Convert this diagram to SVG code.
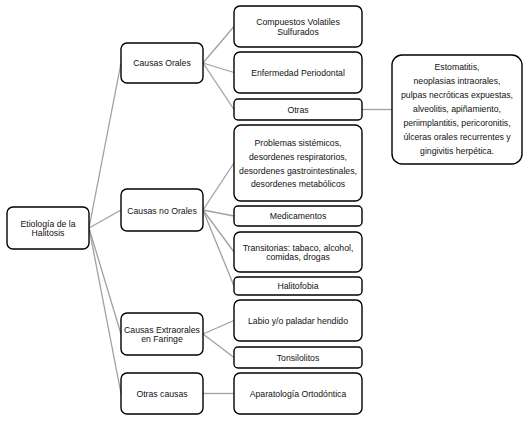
<svg xmlns="http://www.w3.org/2000/svg" width="529" height="421" viewBox="0 0 529 421">
<style>
.box{fill:#fff;stroke:#000;stroke-width:1.4}
.t{font-family:"Liberation Sans",Arial,sans-serif;font-size:8.7px;fill:#111;text-anchor:middle;dominant-baseline:central}
.c line{stroke:#a0a0a0;stroke-width:1.3}
</style>
<rect width="529" height="421" fill="#fff"/>
<g class="c" id="connectors">
<line x1="89" y1="228" x2="121" y2="63"/>
<line x1="89" y1="228" x2="121" y2="210"/>
<line x1="89" y1="228" x2="121" y2="334"/>
<line x1="89" y1="228" x2="121" y2="393.5"/>
<line x1="203" y1="63" x2="234" y2="26.5"/>
<line x1="203" y1="63" x2="234" y2="72.5"/>
<line x1="203" y1="63" x2="234" y2="109.5"/>
<line x1="362" y1="109.5" x2="392" y2="109.5"/>
<line x1="203" y1="210" x2="234" y2="163"/>
<line x1="203" y1="210" x2="234" y2="216"/>
<line x1="203" y1="210" x2="234" y2="252"/>
<line x1="203" y1="210" x2="234" y2="286"/>
<line x1="203" y1="334" x2="234" y2="320.5"/>
<line x1="203" y1="334" x2="234" y2="357.5"/>
<line x1="203" y1="393.5" x2="234" y2="393.5"/>
</g>
<g id="root"><rect class="box" x="7" y="207" width="82" height="42" rx="6"/><text class="t" x="48" y="224">Etiología de la</text><text class="t" x="48" y="233">Halitosis</text></g>
<g id="causas-orales"><rect class="box" x="121" y="43" width="82" height="40" rx="6"/><text class="t" x="162" y="63">Causas Orales</text></g>
<g id="causas-no-orales"><rect class="box" x="121" y="189" width="82" height="42" rx="6"/><text class="t" x="162" y="211">Causas no Orales</text></g>
<g id="causas-extraorales"><rect class="box" x="121" y="313" width="82" height="42" rx="6"/><text class="t" x="162" y="329.5">Causas Extraorales</text><text class="t" x="162" y="339">en Faringe</text></g>
<g id="otras-causas"><rect class="box" x="121" y="373" width="82" height="41" rx="6"/><text class="t" x="162" y="393.5">Otras causas</text></g>
<g id="compuestos"><rect class="box" x="234" y="6" width="128" height="41" rx="6"/><text class="t" x="298" y="22">Compuestos Volatiles</text><text class="t" x="298" y="31.5">Sulfurados</text></g>
<g id="enfermedad"><rect class="box" x="234" y="52" width="128" height="41" rx="6"/><text class="t" x="298" y="73">Enfermedad Periodontal</text></g>
<g id="otras"><rect class="box" x="234" y="99" width="128" height="21" rx="4"/><text class="t" x="298" y="109.5">Otras</text></g>
<g id="otras-detalle"><rect class="box" x="392" y="55" width="130" height="109" rx="10"/>
<text class="t" x="457" y="67">Estomatitis,</text>
<text class="t" x="457" y="81">neoplasias intraorales,</text>
<text class="t" x="457" y="95">pulpas necróticas expuestas,</text>
<text class="t" x="457" y="109">alveolitis, apiñamiento,</text>
<text class="t" x="457" y="123">periimplantitis, pericoronitis,</text>
<text class="t" x="457" y="137">úlceras orales recurrentes y</text>
<text class="t" x="457" y="151">gingivitis herpética.</text></g>
<g id="problemas"><rect class="box" x="234" y="125" width="128" height="76" rx="7"/>
<text class="t" x="298" y="143">Problemas sistémicos,</text>
<text class="t" x="298" y="157">desordenes respiratorios,</text>
<text class="t" x="298" y="170.5">desordenes gastrointestinales,</text>
<text class="t" x="298" y="184">desordenes metabólicos</text></g>
<g id="medicamentos"><rect class="box" x="234" y="206" width="128" height="20" rx="4"/><text class="t" x="298" y="216">Medicamentos</text></g>
<g id="transitorias"><rect class="box" x="234" y="232" width="128" height="40" rx="6"/><text class="t" x="298" y="247.5">Transitorias: tabaco, alcohol,</text><text class="t" x="298" y="257">comidas, drogas</text></g>
<g id="halitofobia"><rect class="box" x="234" y="277" width="128" height="18" rx="4"/><text class="t" x="298" y="286">Halitofobia</text></g>
<g id="labio"><rect class="box" x="234" y="300" width="128" height="41" rx="6"/><text class="t" x="298" y="321">Labio y/o paladar hendido</text></g>
<g id="tonsilolitos"><rect class="box" x="234" y="347" width="128" height="21" rx="4"/><text class="t" x="298" y="358">Tonsilolitos</text></g>
<g id="aparatologia"><rect class="box" x="234" y="373" width="128" height="41" rx="6"/><text class="t" x="298" y="394">Aparatología Ortodóntica</text></g>
</svg>
